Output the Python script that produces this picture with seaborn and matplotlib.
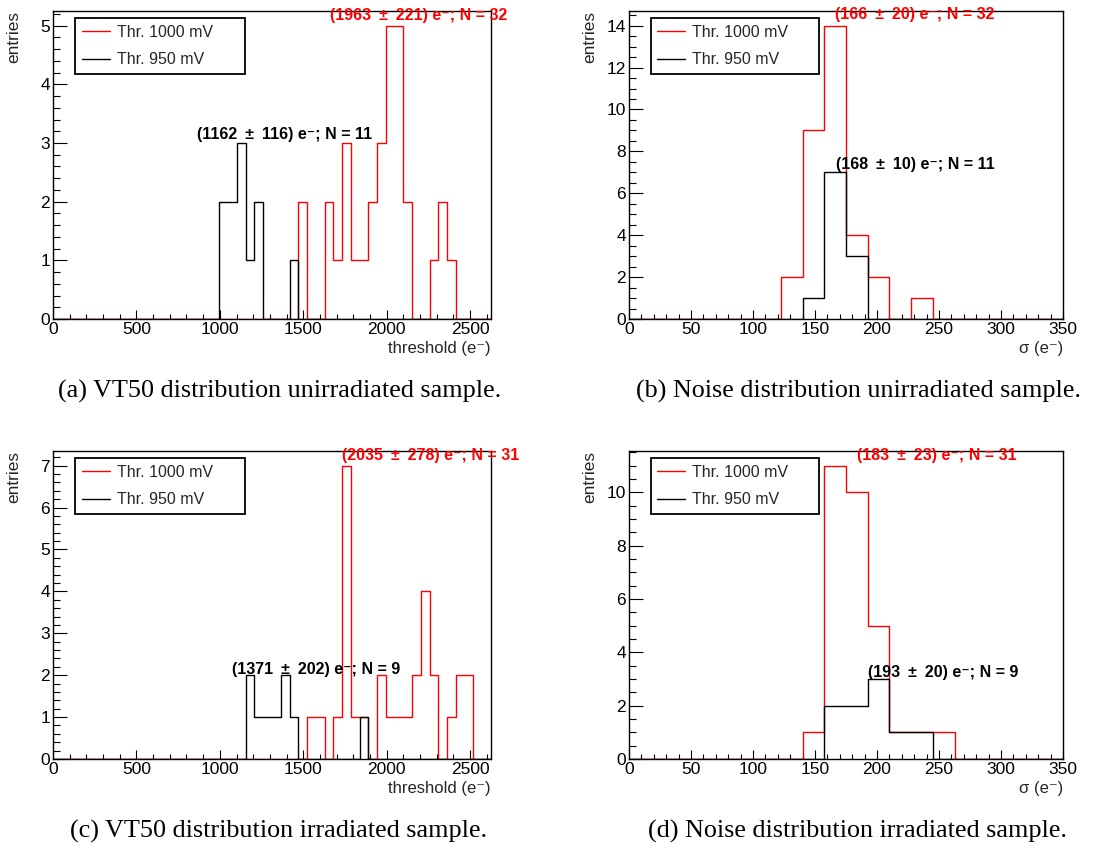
import numpy as np
import pandas as pd
import matplotlib
matplotlib.use("Agg")
import matplotlib.pyplot as plt
import seaborn as sns
from matplotlib.ticker import MultipleLocator
from matplotlib.lines import Line2D

# ---------------- data ----------------
thr_range = (0.0, 2625.0)
thr_nbins = 50
sig_range = (0.0, 350.0)
sig_nbins = 20

# VT50 (threshold) histograms, unirradiated
thr_unirr_1000 = [0, 0, 0, 0, 0, 0, 0, 0, 0, 0,
                  0, 0, 0, 0, 0, 0, 0, 0, 0, 0,
                  0, 0, 0, 0, 0, 0, 0, 0, 2, 0,
                  0, 2, 1, 3, 1, 1, 2, 3, 5, 5,
                  2, 0, 0, 1, 2, 1, 0, 0, 0, 0]
thr_unirr_950 = [0, 0, 0, 0, 0, 0, 0, 0, 0, 0,
                 0, 0, 0, 0, 0, 0, 0, 0, 0, 2,
                 2, 3, 1, 2, 0, 0, 0, 1, 0, 0,
                 0, 0, 0, 0, 0, 0, 0, 0, 0, 0,
                 0, 0, 0, 0, 0, 0, 0, 0, 0, 0]
# VT50 (threshold) histograms, irradiated
thr_irr_1000 = [0, 0, 0, 0, 0, 0, 0, 0, 0, 0,
                0, 0, 0, 0, 0, 0, 0, 0, 0, 0,
                0, 0, 0, 0, 0, 0, 0, 0, 0, 1,
                1, 0, 1, 7, 1, 1, 0, 2, 1, 1,
                1, 2, 4, 2, 0, 1, 2, 2, 0, 0]
thr_irr_950 = [0, 0, 0, 0, 0, 0, 0, 0, 0, 0,
               0, 0, 0, 0, 0, 0, 0, 0, 0, 0,
               0, 0, 2, 1, 1, 1, 2, 1, 0, 0,
               0, 0, 0, 0, 0, 1, 0, 0, 0, 0,
               0, 0, 0, 0, 0, 0, 0, 0, 0, 0]
# Noise histograms
sig_unirr_1000 = [0, 0, 0, 0, 0, 0, 0, 2, 9, 14, 4, 2, 0, 1, 0, 0, 0, 0, 0, 0]
sig_unirr_950 = [0, 0, 0, 0, 0, 0, 0, 0, 1, 7, 3, 0, 0, 0, 0, 0, 0, 0, 0, 0]
sig_irr_1000 = [0, 0, 0, 0, 0, 0, 0, 0, 1, 11, 10, 5, 1, 1, 1, 0, 0, 0, 0, 0]
sig_irr_950 = [0, 0, 0, 0, 0, 0, 0, 0, 0, 2, 2, 3, 1, 1, 0, 0, 0, 0, 0, 0]

series_labels = ["Thr. 1000 mV", "Thr. 950 mV"]
series_colors = ["#ff0000", "#000000"]

# annotation texts and their (data) anchor positions
PM = "\u2002±\u2002"
ann_text = {
    "a": [f"(1963{PM}221) e⁻; N = 32", f"(1162{PM}116) e⁻; N = 11"],
    "b": [f"(166{PM}20) e⁻; N = 32", f"(168{PM}10) e⁻; N = 11"],
    "c": [f"(2035{PM}278) e⁻; N = 31", f"(1371{PM}202) e⁻; N = 9"],
    "d": [f"(183{PM}23) e⁻; N = 31", f"(193{PM}20) e⁻; N = 9"],
}
ann_pos = {
    "a": [(1661, 5.10), (863, 3.06)],
    "b": [(166, 14.30), (167.3, 7.17)],
    "c": [(1735, 7.14), (1072, 2.04)],
    "d": [(183.5, 11.2), (192.9, 3.08)],
}
captions = {
    "a": "(a) VT50 distribution unirradiated sample.",
    "b": "(b) Noise distribution unirradiated sample.",
    "c": "(c) VT50 distribution irradiated sample.",
    "d": "(d) Noise distribution irradiated sample.",
}
xlabels = {"thr": "threshold (e⁻)", "sig": "σ (e⁻)"}

# ---------------- style ----------------
sns.set_theme(style="ticks")
plt.rcParams["font.family"] = ["Liberation Sans", "DejaVu Sans"]
plt.rcParams["axes.linewidth"] = 1.0
plt.rcParams["axes.edgecolor"] = "black"

W, H = 1105, 849
fig = plt.figure(figsize=(W / 100, H / 100), dpi=100)
fig.patch.set_facecolor("white")

def px_axes(left, top, right, bottom):
    return fig.add_axes([left / W, 1 - bottom / H, (right - left) / W, (bottom - top) / H])

panels = {
    "a": dict(rect=(53, 11, 491, 319), kind="thr", data=(thr_unirr_1000, thr_unirr_950),
              ymaj=1, ymin=0.2),
    "b": dict(rect=(629, 11, 1063, 319), kind="sig", data=(sig_unirr_1000, sig_unirr_950),
              ymaj=2, ymin=0.5),
    "c": dict(rect=(53, 451, 491, 759), kind="thr", data=(thr_irr_1000, thr_irr_950),
              ymaj=1, ymin=0.2),
    "d": dict(rect=(629, 451, 1063, 759), kind="sig", data=(sig_irr_1000, sig_irr_950),
              ymaj=2, ymin=0.5),
}

FS = 11.5
TFS = 12.5
LFS = 12.0
for key, p in panels.items():
    ax = px_axes(*p["rect"])
    if p["kind"] == "thr":
        lo, hi = thr_range
        nb = thr_nbins
        xmaj, xmin = 500, 100
    else:
        lo, hi = sig_range
        nb = sig_nbins
        xmaj, xmin = 50, 10
    edges = np.linspace(lo, hi, nb + 1)
    centers = 0.5 * (edges[:-1] + edges[1:])
    ymax = 0
    for counts, col in zip(p["data"], series_colors):
        df = pd.DataFrame({"x": centers, "w": counts})
        sns.histplot(data=df, x="x", weights="w", bins=[float(e) for e in edges],
                     element="step", fill=False, color=col, linewidth=1.0, ax=ax)
        ymax = max(ymax, max(counts))
    ax.set_xlim(lo, hi)
    ax.set_ylim(0, ymax * 1.05)
    ax.xaxis.set_major_locator(MultipleLocator(xmaj))
    ax.xaxis.set_minor_locator(MultipleLocator(xmin))
    ax.yaxis.set_major_locator(MultipleLocator(p["ymaj"]))
    ax.yaxis.set_minor_locator(MultipleLocator(p["ymin"]))
    ax.tick_params(axis="both", which="both", direction="in", top=False, right=False,
                   colors="black", width=0.8, labelsize=TFS)
    ax.tick_params(axis="x", which="major", length=6.5, pad=2.0)
    ax.tick_params(axis="x", which="minor", length=3.3)
    ax.tick_params(axis="y", which="major", length=10, pad=2)
    ax.tick_params(axis="y", which="minor", length=5)
    for sp in ax.spines.values():
        sp.set_visible(True)
        sp.set_color("black")
        sp.set_linewidth(1.0)

    ax.set_ylabel("entries", loc="top", fontsize=LFS + 0.4)
    ax.yaxis.set_label_coords(-0.073, 1.0)
    ax.set_xlabel(xlabels[p["kind"]], loc="right", fontsize=LFS)
    ax.xaxis.set_label_coords(1.0, -0.072)

    handles = [Line2D([], [], color=c, lw=1.0) for c in series_colors]
    leg = ax.legend(handles, series_labels, loc="upper left",
                    bbox_to_anchor=(0.05, 0.776, 0.388, 0.201), mode="expand",
                    borderaxespad=0, fontsize=FS, frameon=True, fancybox=False,
                    framealpha=1, edgecolor="black", handlelength=1.75,
                    handletextpad=0.44, borderpad=0.42, labelspacing=0.77)
    leg.get_frame().set_linewidth(1.3)

    for txt, (tx, ty), col in zip(ann_text[key], ann_pos[key], series_colors):
        ax.text(tx, ty, txt, color=col, fontsize=FS, fontweight="bold",
                ha="left", va="baseline", clip_on=False, zorder=5)

cap_x = {"a": 280, "b": 858, "c": 279, "d": 858}
cap_y = {"a": 398, "b": 398, "c": 838, "d": 838}
for key, txt in captions.items():
    fig.text(cap_x[key] / W, 1 - cap_y[key] / H, txt, ha="center", va="baseline",
             fontsize=18.8, family=["Liberation Serif", "DejaVu Serif"], color="black")

fig.savefig("out.png", dpi=100, facecolor="white")
